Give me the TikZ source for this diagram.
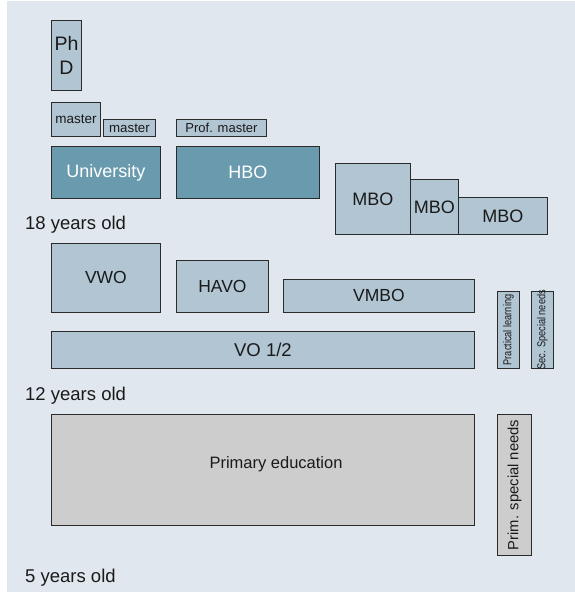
\documentclass[tikz,border=0pt]{standalone}
\usepackage{fontspec}
\setmainfont{Liberation Sans}
\definecolor{bgc}{HTML}{E0E7EE}
\definecolor{boxc}{HTML}{B1C5D3}
\definecolor{unic}{HTML}{6A9AAE}
\definecolor{grayc}{HTML}{CDCDCD}
\definecolor{edgec}{HTML}{2B2B2B}
\definecolor{txtc}{HTML}{1A1A1A}
\begin{document}
\begin{tikzpicture}[x=1pt,y=-1pt,
  box/.style={draw=edgec,line width=0.9pt,fill=boxc,anchor=north west,inner sep=0pt,text=txtc,align=center},
  uni/.style={box,fill=unic,text=white},
  gbox/.style={box,fill=grayc},
  vlab/.style={rotate=90,inner sep=0pt,text=txtc},
  age/.style={anchor=base west,inner sep=0pt,text=txtc,font=\fontsize{18.5}{22}\selectfont}]
\path[use as bounding box] (0,0) rectangle (575,597);
\fill[bgc] (7,1) rectangle (575,592);
\node[box,minimum width=30pt,minimum height=70pt,font=\fontsize{19.5}{24}\selectfont] (phd) at (51,20) {Ph\\D};
\node[box,minimum width=49pt,minimum height=34pt,font=\fontsize{13.5}{16}\selectfont] (m1) at (51,102) {master};
\node[box,minimum width=52pt,minimum height=17pt,font=\fontsize{13.3}{16}\selectfont] (m2) at (103,119) {master};
\node[box,minimum width=90pt,minimum height=17pt,font=\fontsize{13}{16}\selectfont] (pm) at (176,119) {Prof. master};
\node[uni,minimum width=109pt,minimum height=52pt,font=\fontsize{18}{22}\selectfont] (univ) at (51,146) {University};
\node[uni,minimum width=143pt,minimum height=52pt,font=\fontsize{18}{22}\selectfont] (hbo) at (176,146) {HBO};
\node[box,minimum width=75pt,minimum height=71pt,font=\fontsize{18}{22}\selectfont] (mbo1) at (335,163) {MBO};
\node[box,minimum width=48pt,minimum height=55pt,font=\fontsize{18}{22}\selectfont] (mbo2) at (410,179) {MBO};
\node[box,minimum width=89pt,minimum height=37pt,font=\fontsize{18}{22}\selectfont] (mbo3) at (458,197) {MBO};
\node[age] (a18) at (25,229) {18 years old};
\node[box,minimum width=109pt,minimum height=69pt,font=\fontsize{17.5}{22}\selectfont] (vwo) at (51,243) {VWO};
\node[box,minimum width=92pt,minimum height=52pt,font=\fontsize{17.5}{22}\selectfont] (havo) at (176,260) {HAVO};
\node[box,minimum width=191pt,minimum height=33pt,font=\fontsize{17.5}{22}\selectfont] (vmbo) at (283,279) {VMBO};
\node[box,minimum width=423pt,minimum height=37pt,font=\fontsize{18.5}{22}\selectfont] (vo) at (51,331) {VO 1/2};
\node[box,minimum width=22pt,minimum height=77pt] (pl) at (497,291) {};
\node[vlab,font=\fontsize{11.5}{13}\selectfont,xscale=0.8] (plt) at (pl.center) {Practical learning};
\node[box,minimum width=22pt,minimum height=77pt] (ssn) at (531,291) {};
\node[vlab,font=\fontsize{11.5}{13}\selectfont,xscale=0.8] (ssnt) at (ssn.center) {Sec. Special needs};
\node[age] (a12) at (25,400) {12 years old};
\node[gbox,minimum width=423pt,minimum height=111pt] (prim) at (51,414) {};
\node[inner sep=0pt,text=txtc,font=\fontsize{16.5}{20}\selectfont] (primt) at (276,464) {Primary education};
\node[gbox,minimum width=34pt,minimum height=141pt] (psn) at (497,414) {};
\node[vlab,font=\fontsize{14.8}{17}\selectfont] (psnt) at (psn.center) {Prim. special needs};
\node[age] (a5) at (25,582) {5 years old};
\end{tikzpicture}
\end{document}
